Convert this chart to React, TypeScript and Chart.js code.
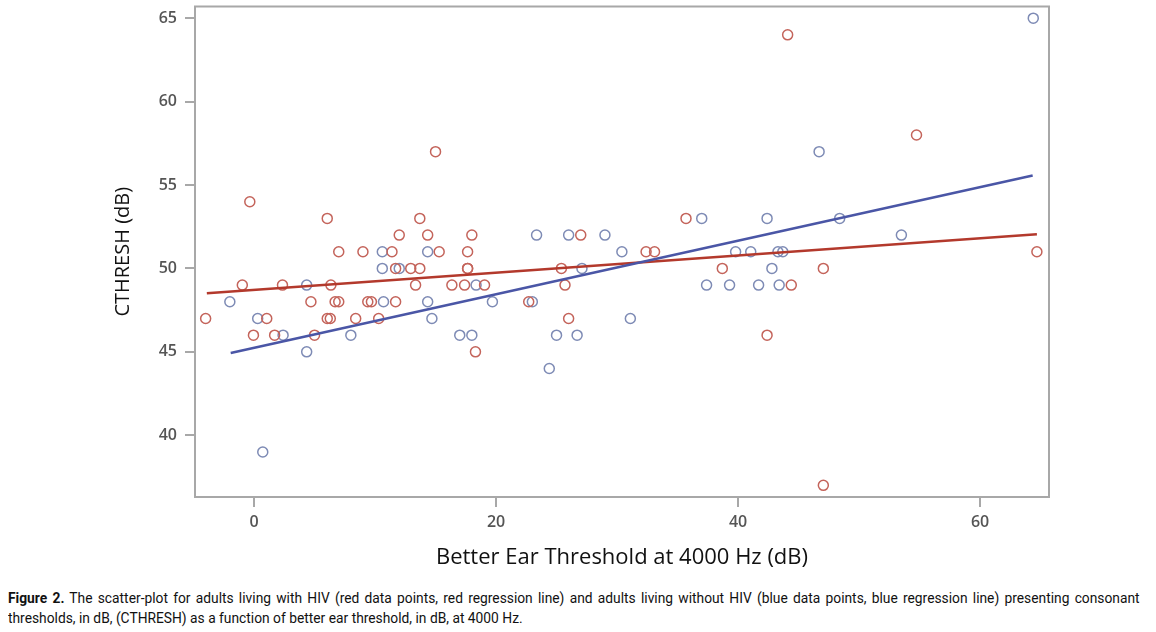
import React, { useEffect, useRef } from "react";
import { Chart, registerables } from "chart.js";

Chart.register(...registerables);

// HIV (red) data points
const redX = [44.1, 54.75, 15.0, -0.35, 6.05, 13.7, 35.7, 12.0, 14.35, 18.0, 27.0,
  7.0, 9.0, 11.4, 15.3, 17.65, 32.4, 33.1, 64.7,
  11.7, 12.95, 13.7, 17.65, 17.65, 25.4, 38.7, 47.05,
  -0.97, 2.35, 6.35, 13.35, 16.35, 17.4, 19.05, 25.7, 44.4,
  4.7, 6.7, 7.0, 9.4, 9.7, 11.7, 22.7,
  -4.0, 1.05, 6.05, 6.3, 8.4, 10.3, 26.0,
  -0.05, 1.7, 5.0, 42.4, 18.3, 47.05];
const redY = [64, 58, 57, 54, 53, 53, 53, 52, 52, 52, 52,
  51, 51, 51, 51, 51, 51, 51, 51,
  50, 50, 50, 50, 50, 50, 50, 50,
  49, 49, 49, 49, 49, 49, 49, 49, 49,
  48, 48, 48, 48, 48, 48, 48,
  47, 47, 47, 47, 47, 47, 47,
  46, 46, 46, 46, 45, 37];

// non-HIV (blue) data points
const blueX = [64.4, 46.7, 37.0, 42.4, 48.4, 23.35, 26.0, 29.0, 53.5,
  10.6, 14.35, 30.4, 39.8, 41.05, 43.3, 43.7,
  10.6, 12.0, 27.1, 42.8,
  4.35, 18.35, 37.4, 39.3, 41.7, 43.4,
  -2.0, 10.7, 14.35, 19.7, 23.0,
  0.3, 14.7, 31.1,
  2.4, 8.0, 17.0, 18.0, 25.0, 26.7,
  4.35, 24.4, 0.72];
const blueY = [65, 57, 53, 53, 53, 52, 52, 52, 52,
  51, 51, 51, 51, 51, 51, 51,
  50, 50, 50, 50,
  49, 49, 49, 49, 49, 49,
  48, 48, 48, 48, 48,
  47, 47, 47,
  46, 46, 46, 46, 46, 46,
  45, 44, 39];

// regression line end points
const redLineX = [-3.9, 64.7];
const redLineY = [48.51, 52.05];
const blueLineX = [-1.93, 64.35];
const blueLineY = [44.93, 55.57];

const xTicks = [0, 20, 40, 60];
const yTicks = [40, 45, 50, 55, 60, 65];

const zip = (xs: number[], ys: number[]) => xs.map((x, i) => ({ x, y: ys[i] }));

const boxPlugin = {
  id: "plotBox",
  afterDatasetsDraw(chart: any) {
    const { ctx, chartArea } = chart;
    ctx.save();
    ctx.strokeStyle = "#a8a8a8";
    ctx.lineWidth = 2;
    ctx.strokeRect(chartArea.left, chartArea.top, chartArea.right - chartArea.left, chartArea.bottom - chartArea.top);
    ctx.restore();
  },
};

export default function App() {
  const ref = useRef<HTMLCanvasElement>(null);
  useEffect(() => {
    if (!ref.current) return;
    const tickFont = { family: "'Open Sans', sans-serif", size: 16, weight: 600 as any };
    const chart = new Chart(ref.current, {
      type: "scatter",
      data: {
        datasets: [
          {
            type: "line" as any,
            data: zip(blueLineX, blueLineY),
            borderColor: "#4a56a6",
            borderWidth: 2.5,
            pointRadius: 0,
            fill: false,
          },
          {
            type: "line" as any,
            data: zip(redLineX, redLineY),
            borderColor: "#b3392c",
            borderWidth: 2.5,
            pointRadius: 0,
            fill: false,
          },
          {
            data: zip(redX, redY),
            pointStyle: "circle",
            pointRadius: 5,
            pointBorderWidth: 1.5,
            pointBorderColor: "#c4645b",
            pointBackgroundColor: "rgba(0,0,0,0)",
          },
          {
            data: zip(blueX, blueY),
            pointStyle: "circle",
            pointRadius: 5,
            pointBorderWidth: 1.5,
            pointBorderColor: "#7e8bb5",
            pointBackgroundColor: "rgba(0,0,0,0)",
          },
        ],
      },
      options: {
        animation: false,
        responsive: false,
        maintainAspectRatio: false,
        layout: { padding: { left: 100, top: 4, right: 107, bottom: 0 } },
        plugins: { legend: { display: false }, tooltip: { enabled: false } },
        scales: {
          x: {
            type: "linear",
            min: -4.88,
            max: 65.7,
            afterBuildTicks: (s: any) => { s.ticks = xTicks.map((v) => ({ value: v })); },
            afterFit: (s: any) => { s.height = 83; s.paddingLeft = 0; s.paddingRight = 0; },
            grid: { drawOnChartArea: false, drawTicks: true, tickLength: 10, color: "#a8a8a8", lineWidth: 2 },
            border: { display: true, color: "#a8a8a8", width: 2 },
            ticks: { font: tickFont, color: "#555", padding: 6, maxRotation: 0 },
            title: {
              display: true,
              text: "Better Ear Threshold at 4000 Hz (dB)",
              font: { family: "'Open Sans', sans-serif", size: 22 },
              color: "#111",
              padding: { top: 0, bottom: 9 },
            },
          },
          y: {
            type: "linear",
            min: 36.3,
            max: 65.7,
            afterBuildTicks: (s: any) => { s.ticks = yTicks.map((v) => ({ value: v })); },
            afterFit: (s: any) => { s.width = 95; s.paddingTop = 0; s.paddingBottom = 0; },
            grid: { drawOnChartArea: false, drawTicks: true, tickLength: 10, color: "#a8a8a8", lineWidth: 2 },
            border: { display: true, color: "#a8a8a8", width: 2 },
            ticks: { font: tickFont, color: "#555", padding: 8 },
            title: {
              display: true,
              text: "CTHRESH (dB)",
              font: { family: "'Open Sans', sans-serif", size: 20 },
              color: "#111",
              padding: { top: 11, bottom: 0 },
            },
          },
        },
      },
      plugins: [boxPlugin],
    });
    return () => chart.destroy();
  }, []);

  const capFont = "'Roboto', 'Liberation Sans', sans-serif";
  return (
    <div style={{ position: "fixed", left: 0, top: 0, width: 1156, height: 632, background: "#fff", overflow: "hidden" }}>
      <canvas ref={ref} width={1156} height={580} style={{ display: "block", width: 1156, height: 580 }} />
      <div style={{ position: "absolute", left: 8, top: 588, width: 1230, transform: "scaleX(0.92)", transformOrigin: "0 0", fontFamily: capFont, fontSize: 15, lineHeight: "20px", color: "#111" }}>
        <div style={{ textAlign: "justify", textAlignLast: "justify" as any, whiteSpace: "nowrap" }}>
          <b>Figure 2.</b> The scatter-plot for adults living with HIV (red data points, red regression line) and adults living without HIV (blue data points, blue regression line) presenting consonant
        </div>
        <div>thresholds, in dB, (CTHRESH) as a function of better ear threshold, in dB, at 4000 Hz.</div>
      </div>
    </div>
  );
}
